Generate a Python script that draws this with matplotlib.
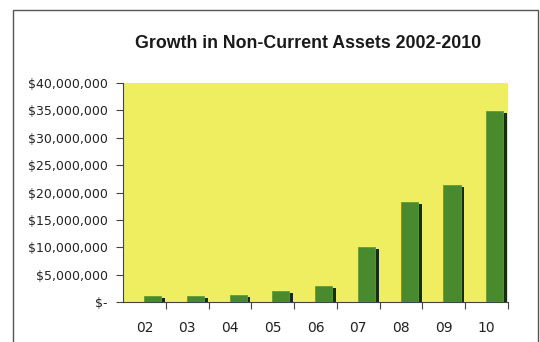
import matplotlib
matplotlib.use("Agg")
import matplotlib.pyplot as plt
from matplotlib.patches import Rectangle
from matplotlib.ticker import FuncFormatter

years = ["02", "03", "04", "05", "06", "07", "08", "09", "10"]
assets = [1.1e6, 1.1e6, 1.3e6, 2.0e6, 2.9e6, 10.1e6, 18.2e6, 21.3e6, 34.8e6]
yticks = [0, 5e6, 10e6, 15e6, 20e6, 25e6, 30e6, 35e6, 40e6]

plt.rcParams["font.family"] = ["DejaVu Sans"]

def dollars(v, pos):
    # accounting style: zero shows as "$-"
    if v == 0:
        return "$-"
    return "${:,.0f}".format(v)

fig = plt.figure(figsize=(5.4, 3.42), dpi=100)
fig.patch.set_facecolor("white")

# outer chart border
fig.patches.append(Rectangle((13 / 540, -0.05), (538 - 13) / 540, 1.05 - 10 / 342,
                             transform=fig.transFigure, fill=False,
                             edgecolor="#555555", linewidth=1.0))

ax = fig.add_axes([123 / 540, 40 / 342, 385 / 540, 219 / 342])
ax.set_facecolor("#efed60")

xs = list(range(len(years)))
bw = 0.40
# dark side face first, then the front face
ax.bar([x + bw - 0.01 for x in xs], [v - 0.35e6 for v in assets], width=0.09,
       align="edge", color="#1c2b14", zorder=2)
ax.bar([x - 0.01 for x in xs], assets, width=bw, align="edge",
       color="#4a8a2e", edgecolor="#5f9c3c", linewidth=0.6, zorder=3)

ax.set_xlim(-0.5, len(years) - 0.5)
ax.set_ylim(0, 40e6)
ax.set_yticks(yticks)
ax.yaxis.set_major_formatter(FuncFormatter(dollars))

# ticks sit between the categories, labels at the centres
ax.set_xticks([x + 0.5 for x in xs])
ax.set_xticklabels([])
ax.set_xticks(xs, minor=True)
ax.set_xticklabels(years, minor=True)
ax.tick_params(axis="x", which="minor", length=0, pad=14, labelsize=10, colors="#222222")
ax.tick_params(axis="x", which="major", length=5, width=0.8, color="#444444")
ax.tick_params(axis="y", length=5, width=0.8, color="#444444", pad=6,
               labelsize=9, labelcolor="#222222")

for s in ["top", "right"]:
    ax.spines[s].set_visible(False)
for s in ["left", "bottom"]:
    ax.spines[s].set_color("#444444")
    ax.spines[s].set_linewidth(0.8)

fig.text(308 / 540, 1 - 43 / 342, "Growth in Non-Current Assets 2002-2010",
         ha="center", va="center", fontsize=12.8, fontweight="bold", color="#1a1a1a",
         family="Liberation Sans")

fig.savefig("out.png", dpi=100, facecolor="white")
